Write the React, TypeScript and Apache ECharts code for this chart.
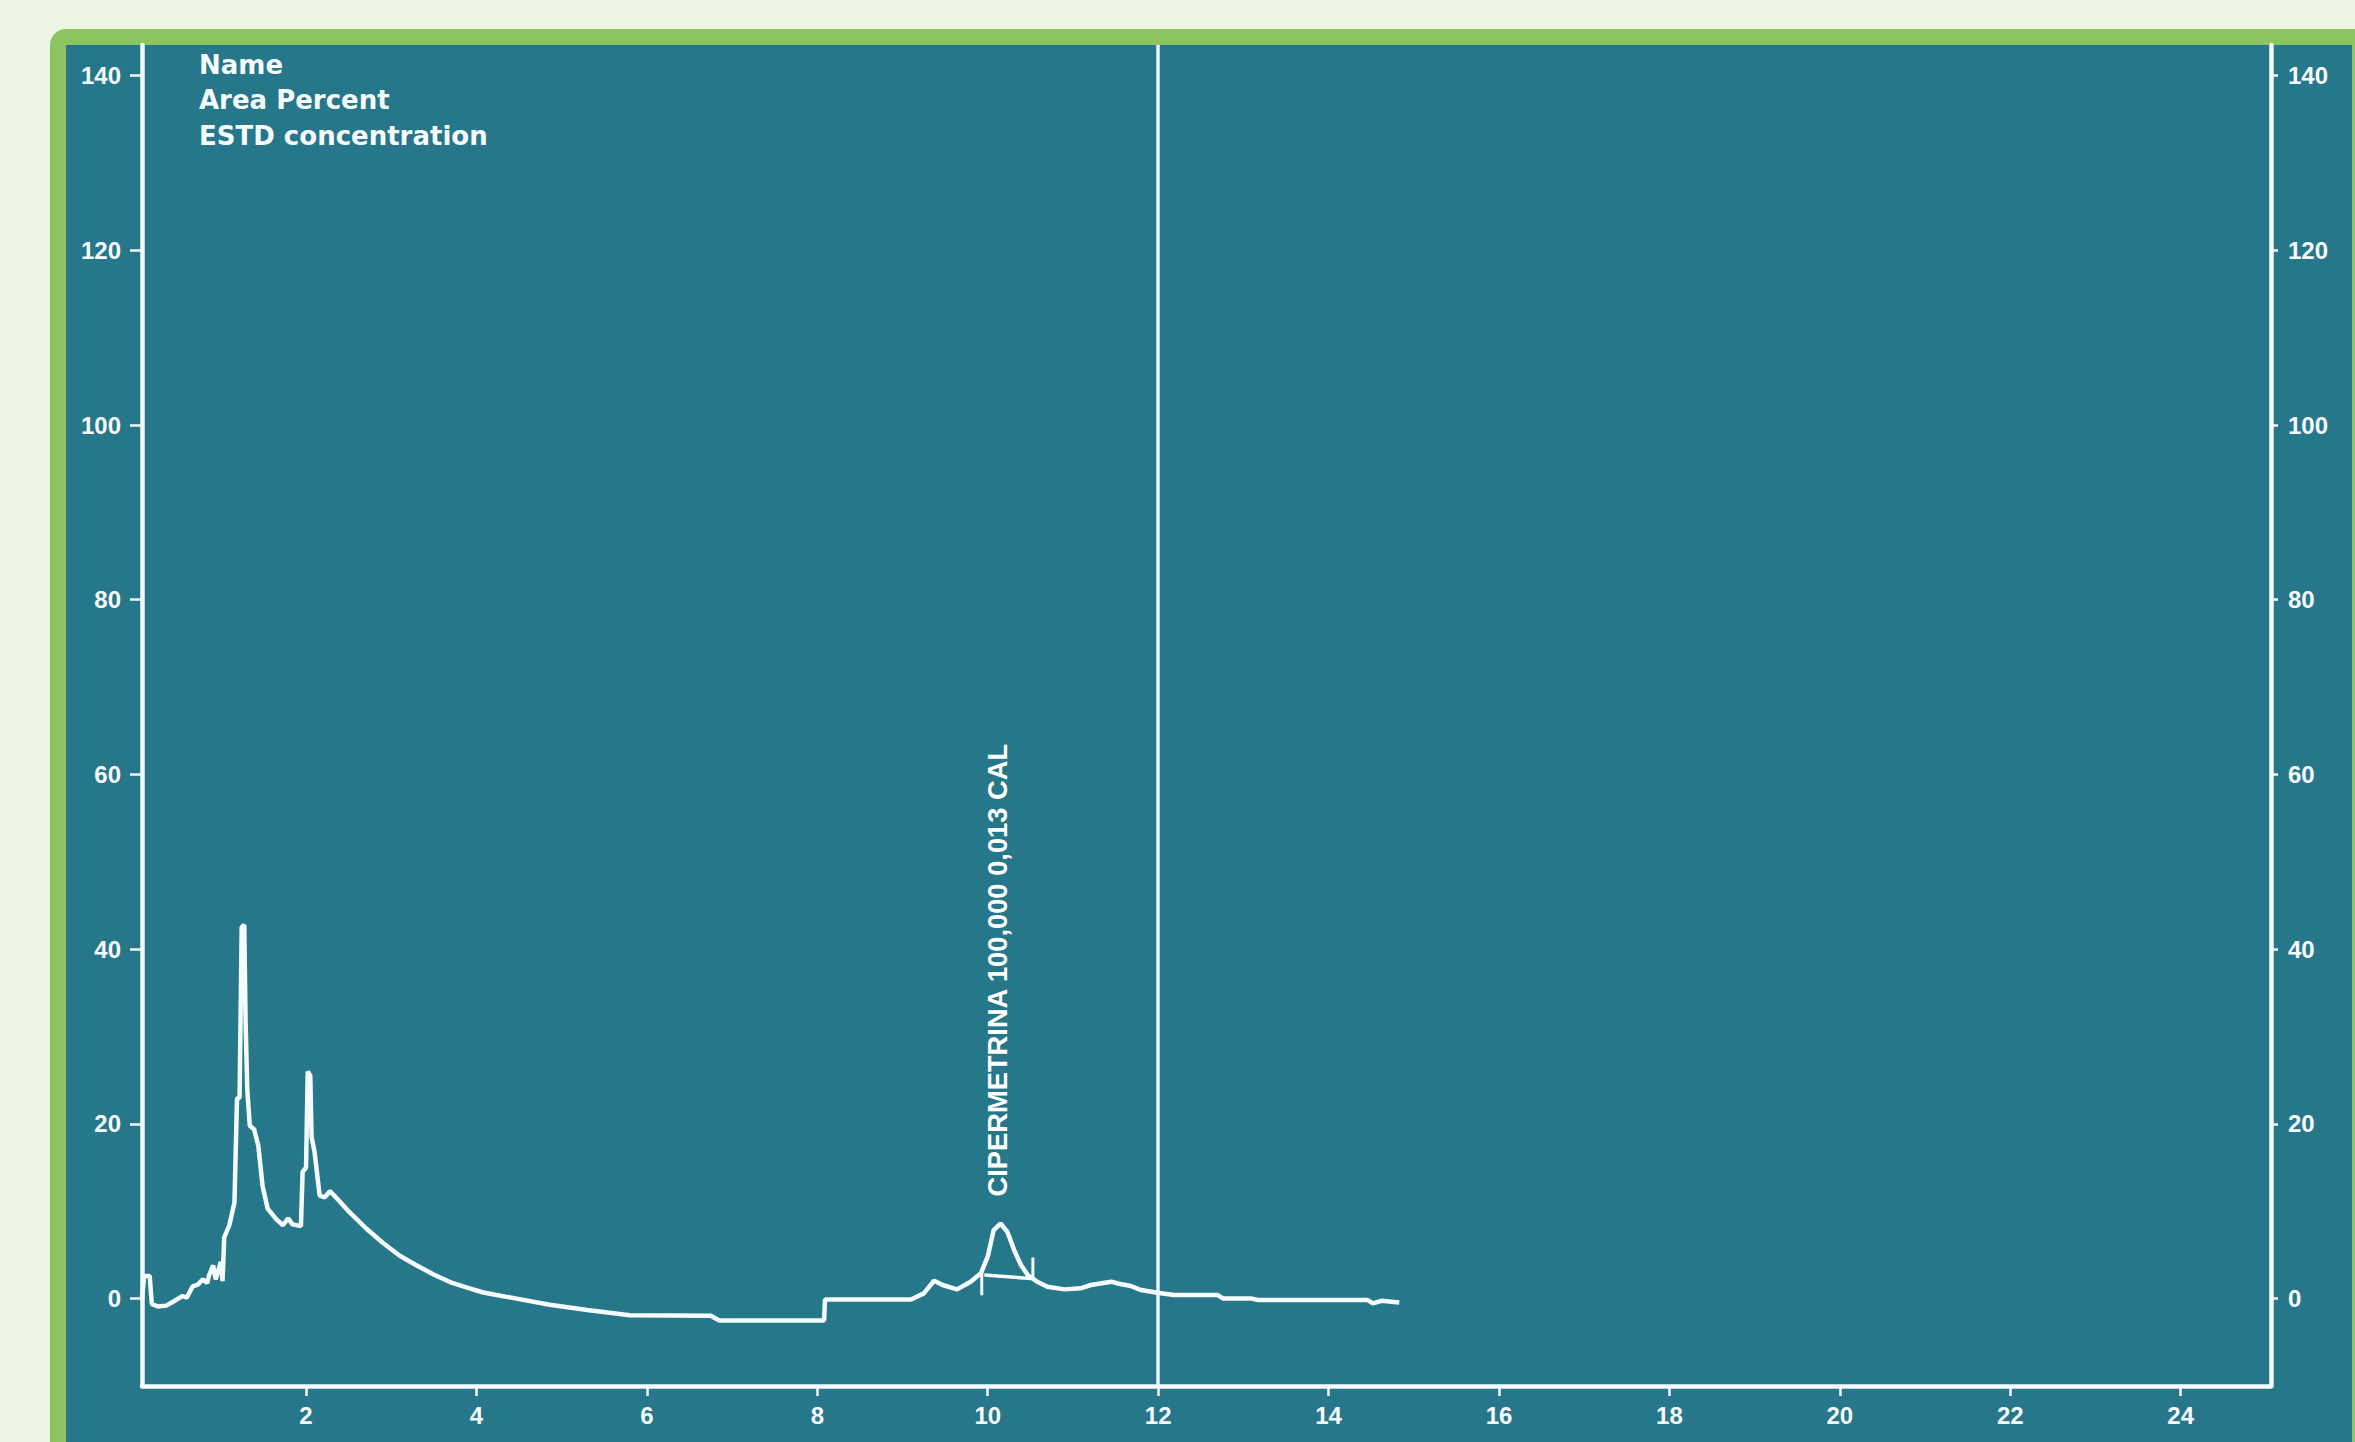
import React, { useEffect, useRef } from "react";
import * as echarts from "echarts";

// Chromatogram trace: retention time (min) and detector signal
const retentionTime = [
  0.075, 0.1, 0.165, 0.19, 0.26, 0.36, 0.45, 0.5, 0.55, 0.6, 0.67, 0.73, 0.79, 0.84, 0.86,
  0.91, 0.94, 0.97, 1.0, 1.02, 1.04, 1.1, 1.16, 1.19, 1.22, 1.245, 1.275, 1.29, 1.31, 1.34,
  1.39, 1.44, 1.49, 1.55, 1.65, 1.73, 1.79, 1.84, 1.94, 1.96, 2.0, 2.02, 2.05, 2.065, 2.1,
  2.16, 2.22, 2.28, 2.35, 2.51, 2.71, 2.9, 3.1, 3.3, 3.49, 3.69, 3.88, 4.08, 4.47, 4.86,
  5.3, 5.8, 6.75, 6.85, 8.08, 8.09, 9.1, 9.25, 9.37, 9.47, 9.64, 9.8, 9.92, 10.0, 10.07,
  10.15, 10.23, 10.31, 10.39, 10.47, 10.58, 10.7, 10.9, 11.09, 11.21, 11.45, 11.54, 11.68,
  11.8, 11.99, 12.19, 12.7, 12.76, 13.09, 13.17, 14.46, 14.52, 14.62, 14.83,
];
const signal = [
  0.0, 2.6, 2.6, -0.6, -0.9, -0.8, -0.3, 0.0, 0.3, 0.1, 1.4, 1.6, 2.2, 1.8, 2.6,
  3.8, 2.2, 3.2, 4.2, 2.0, 7.0, 8.4, 11.0, 22.9, 23.0, 42.5, 42.8, 32.0, 24.0, 19.8,
  19.4, 17.5, 12.9, 10.3, 9.1, 8.4, 9.2, 8.5, 8.3, 14.5, 15.0, 26.0, 25.5, 18.5, 16.8,
  11.8, 11.6, 12.3, 11.6, 9.9, 8.0, 6.4, 4.9, 3.8, 2.8, 1.9, 1.3, 0.7, 0.0, -0.7,
  -1.3, -1.9, -1.95, -2.5, -2.5, -0.1, -0.1, 0.6, 2.05, 1.56, 1.06, 1.94, 2.9, 4.8, 7.85,
  8.6, 7.66, 5.56, 3.85, 2.7, 1.94, 1.36, 1.06, 1.18, 1.56, 1.94, 1.7, 1.45,
  0.98, 0.68, 0.41, 0.41, 0.03, 0.03, -0.16, -0.16, -0.54, -0.25, -0.45,
];

// Integration baseline and peak start/end markers
const baselineTime = [9.96, 10.51];
const baselineSignal = [2.7, 2.3];
const peakStartTime = 9.93;
const peakStartRange = [0.4, 3.0];
const peakEndTime = 10.53;
const peakEndRange = [2.2, 4.7];

// Annotation and cursor
const peakLabel = "CIPERMETRINA 100,000 0,013 CAL";
const peakLabelAnchor = [10.12, 37.6];
const cursorTime = 12;

// Axes
const xTicks = [2, 4, 6, 8, 10, 12, 14, 16, 18, 20, 22, 24];
const yTicks = [0, 20, 40, 60, 80, 100, 120, 140];
const xRange = [0.075, 25.06];
const yRange = [-10, 143.5];

const headerLines = ["Name", "Area Percent", "ESTD concentration"];

const WHITE = "#f6fbff";
const TEAL = "#267789";
const GREEN = "#8cc45f";

export default function App() {
  const ref = useRef<HTMLDivElement>(null);
  useEffect(() => {
    if (!ref.current) return;
    const chart = echarts.init(ref.current, null, { renderer: "svg" });
    const tickFont = {
      color: WHITE,
      fontSize: 24,
      fontWeight: "bold" as const,
      fontFamily: "'Liberation Sans', Arial, sans-serif",
    };
    const yAxisBase = (pos: "left" | "right") => ({
      type: "value" as const,
      position: pos,
      min: yRange[0],
      max: yRange[1],
      splitLine: { show: false },
      axisLine: { show: true, onZero: false, lineStyle: { color: WHITE, width: 4.5 } },
      axisTick: {
        show: true,
        inside: false,
        length: pos === "left" ? 12 : 7,
        customValues: yTicks,
        lineStyle: { color: WHITE, width: 2.5 },
      },
      axisLabel: {
        ...tickFont,
        margin: pos === "left" ? 21 : 17,
        customValues: yTicks,
      },
    });
    chart.setOption({
      animation: false,
      backgroundColor: "#eef5e4",
      graphic: {
        elements: [
          {
            type: "rect",
            z: -10,
            shape: { x: 50, y: 29, width: 2400, height: 1500, r: [16, 0, 0, 0] },
            style: { fill: GREEN },
          },
          {
            type: "rect",
            z: -9,
            shape: { x: 66, y: 45, width: 2286, height: 1500 },
            style: { fill: TEAL },
          },
        ],
      },
      title: {
        text: headerLines.join("\n"),
        left: 199,
        top: 47,
        padding: 0,
        textStyle: {
          color: WHITE,
          fontSize: 26,
          fontWeight: "bold",
          fontFamily: "'DejaVu Sans', sans-serif",
          lineHeight: 35.5,
        },
      },
      grid: { left: 142, right: 84, top: 45, bottom: 56, containLabel: false },
      xAxis: {
        type: "value",
        min: xRange[0],
        max: xRange[1],
        splitLine: { show: false },
        axisLine: { show: true, onZero: false, lineStyle: { color: WHITE, width: 4.5 } },
        axisTick: {
          show: true,
          length: 10,
          customValues: xTicks,
          lineStyle: { color: WHITE, width: 2.5 },
        },
        axisLabel: { ...tickFont, margin: 17, customValues: xTicks },
      },
      yAxis: [yAxisBase("left"), yAxisBase("right")],
      series: [
        {
          type: "line",
          data: retentionTime.map((t, i) => [t, signal[i]]),
          showSymbol: false,
          symbol: "none",
          lineStyle: { color: WHITE, width: 4.5 },
          markLine: {
            silent: true,
            symbol: ["none", "none"],
            label: { show: false },
            lineStyle: { color: "#eaf4ff", width: 3.5, type: "solid" },
            data: [{ xAxis: cursorTime }],
          },
        },
        {
          type: "line",
          data: baselineTime.map((t, i) => [t, baselineSignal[i]]),
          showSymbol: false,
          symbol: "none",
          lineStyle: { color: WHITE, width: 3.5 },
        },
        {
          type: "line",
          data: peakStartRange.map((v) => [peakStartTime, v]),
          showSymbol: false,
          symbol: "none",
          lineStyle: { color: WHITE, width: 3 },
        },
        {
          type: "line",
          data: peakEndRange.map((v) => [peakEndTime, v]),
          showSymbol: false,
          symbol: "none",
          lineStyle: { color: WHITE, width: 3 },
        },
        {
          type: "scatter",
          data: [peakLabelAnchor],
          symbolSize: 0,
          itemStyle: { color: "#ffffff", opacity: 1 },
          label: {
            show: true,
            position: "inside",
            rotate: 90,
            formatter: peakLabel,
            color: "#ffffff",
            opacity: 1,
            textBorderWidth: 0,
            fontSize: 27.3,
            fontWeight: "bold",
            fontFamily: "'Liberation Sans', Arial, sans-serif",
          },
        },
      ],
    });
    return () => chart.dispose();
  }, []);
  return (
    <div
      ref={ref}
      style={{ position: "fixed", left: 0, top: 0, width: "2355px", height: "1442px" }}
    />
  );
}
